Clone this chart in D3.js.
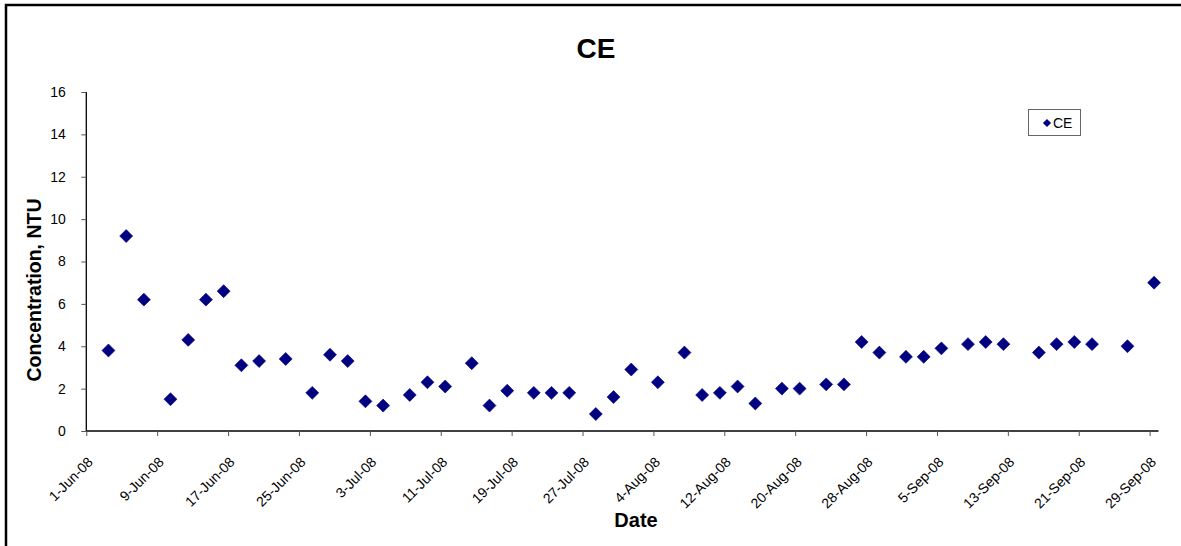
<!DOCTYPE html>
<html>
<head>
<meta charset="utf-8">
<script src="https://cdn.jsdelivr.net/npm/d3@7"></script>
<style>
  html, body { margin: 0; padding: 0; background: #fff; }
  svg { display: block; font-family: Arial, "Liberation Sans", sans-serif; }
</style>
</head>
<body>
<svg id="chart" width="1181" height="546"></svg>
<script>
// ---- data ----
const dates = [
  "2008-06-03T12:00", "2008-06-05T12:00", "2008-06-07T12:00", "2008-06-10T12:00", "2008-06-12T12:00",
  "2008-06-14T12:00", "2008-06-16T12:00", "2008-06-18T12:00", "2008-06-20T12:00", "2008-06-23T12:00",
  "2008-06-26T12:00", "2008-06-28T12:00", "2008-06-30T12:00", "2008-07-02T12:00", "2008-07-04T12:00",
  "2008-07-07T12:00", "2008-07-09T12:00", "2008-07-11T12:00", "2008-07-14T12:00", "2008-07-16T12:00",
  "2008-07-18T12:00", "2008-07-21T12:00", "2008-07-23T12:00", "2008-07-25T12:00", "2008-07-28T12:00",
  "2008-07-30T12:00", "2008-08-01T12:00", "2008-08-04T12:00", "2008-08-07T12:00", "2008-08-09T12:00",
  "2008-08-11T12:00", "2008-08-13T12:00", "2008-08-15T12:00", "2008-08-18T12:00", "2008-08-20T12:00",
  "2008-08-23T12:00", "2008-08-25T12:00", "2008-08-27T12:00", "2008-08-29T12:00", "2008-09-01T12:00",
  "2008-09-03T12:00", "2008-09-05T12:00", "2008-09-08T12:00", "2008-09-10T12:00", "2008-09-12T12:00",
  "2008-09-16T12:00", "2008-09-18T12:00", "2008-09-20T12:00", "2008-09-22T12:00", "2008-09-26T12:00",
  "2008-09-29T12:00"
];
const ceValues = [
  3.8, 9.2, 6.2, 1.5, 4.3,
  6.2, 6.6, 3.1, 3.3, 3.4,
  1.8, 3.6, 3.3, 1.4, 1.2,
  1.7, 2.3, 2.1, 3.2, 1.2,
  1.9, 1.8, 1.8, 1.8, 0.8,
  1.6, 2.9, 2.3, 3.7, 1.7,
  1.8, 2.1, 1.3, 2.0, 2.0,
  2.2, 2.2, 4.2, 3.7, 3.5,
  3.5, 3.9, 4.1, 4.2, 4.1,
  3.7, 4.1, 4.2, 4.1, 4.0,
  7.0
];
const xTickLabels = [
  "1-Jun-08", "9-Jun-08", "17-Jun-08", "25-Jun-08", "3-Jul-08", "11-Jul-08", "19-Jul-08",
  "27-Jul-08", "4-Aug-08", "12-Aug-08", "20-Aug-08", "28-Aug-08", "5-Sep-08", "13-Sep-08",
  "21-Sep-08", "29-Sep-08"
];
const yTicks = [0, 2, 4, 6, 8, 10, 12, 14, 16];
const seriesName = "CE";
const chartTitle = "CE";
const xTitle = "Date";
const yTitle = "Concentration, NTU";

// ---- layout ----
const svg = d3.select("#chart");
const plotL = 86.3, plotR = 1158.5, plotT = 92, plotB = 431;
const parse = d3.utcParse("%Y-%m-%dT%H:%M");
const start = Date.UTC(2008, 5, 1);
const end = Date.UTC(2008, 8, 30);
const x = d3.scaleUtc().domain([start, end]).range([plotL, plotR]);
const y = d3.scaleLinear().domain([0, 16]).range([plotB, plotT]);

const data = dates.map((d, i) => ({ date: parse(d), v: ceValues[i] }));
const fontFam = "Arial, 'Liberation Sans', sans-serif";

// outer border
svg.append("rect").attr("x", 6).attr("y", 5).attr("width", 1200).attr("height", 600)
  .attr("fill", "none").attr("stroke", "#000").attr("stroke-width", 2.5);

// title
svg.append("text").attr("x", 596).attr("y", 57.5).attr("text-anchor", "middle")
  .attr("font-size", 28).attr("font-weight", "bold").text(chartTitle);

// y axis
const yAxis = d3.axisLeft(y).tickValues(yTicks).tickSize(5).tickPadding(15.5);
const gy = svg.append("g").attr("transform", `translate(${plotL},0)`).call(yAxis);
gy.select(".domain").attr("stroke", "#000").attr("stroke-width", 1.3).attr("d", `M0,${plotT}V${plotB}`);
gy.selectAll(".tick line").attr("stroke", "#555");
gy.selectAll(".tick text").attr("font-size", 14).attr("font-family", fontFam).attr("fill", "#000");

// x axis
const tickDates = xTickLabels.map((_, i) => new Date(start + i * 8 * 86400000));
const xAxis = d3.axisBottom(x).tickValues(tickDates).tickSize(5)
  .tickFormat((d, i) => xTickLabels[i]);
const gx = svg.append("g").attr("transform", `translate(0,${plotB})`).call(xAxis);
gx.select(".domain").attr("stroke", "#000").attr("stroke-width", 1.3).attr("d", `M${plotL},0H${plotR}`);
gx.selectAll(".tick line").attr("stroke", "#555");
gx.selectAll(".tick text")
  .attr("font-size", 14).attr("font-family", fontFam).attr("fill", "#000")
  .attr("text-anchor", "end").attr("dy", 0).attr("y", 0)
  .attr("transform", "translate(7,32) rotate(-45)");

// axis titles
svg.append("text").attr("x", 636).attr("y", 527).attr("text-anchor", "middle")
  .attr("font-size", 20).attr("font-weight", "bold").text(xTitle);
svg.append("text").attr("transform", "translate(40.5,290) rotate(-90)").attr("text-anchor", "middle")
  .attr("font-size", 19.5).attr("font-weight", "bold").text(yTitle);

// points
const diamond = d3.symbol(d3.symbolSquare, 84);
svg.append("g").selectAll("path").data(data).join("path")
  .attr("d", diamond)
  .attr("transform", d => `translate(${x(d.date)},${y(d.v)}) rotate(45)`)
  .attr("fill", "#000080").attr("stroke", "#000080").attr("stroke-width", 0.6);

// legend
const lg = svg.append("g");
lg.append("rect").attr("x", 1028.5).attr("y", 109.5).attr("width", 52).attr("height", 26)
  .attr("fill", "#fff").attr("stroke", "#666").attr("stroke-width", 1);
lg.append("path").attr("d", d3.symbol(d3.symbolSquare, 34))
  .attr("transform", "translate(1047,123) rotate(45)").attr("fill", "#000080");
lg.append("text").attr("x", 1053).attr("y", 128).attr("font-size", 14).text(seriesName);
</script>
</body>
</html>
